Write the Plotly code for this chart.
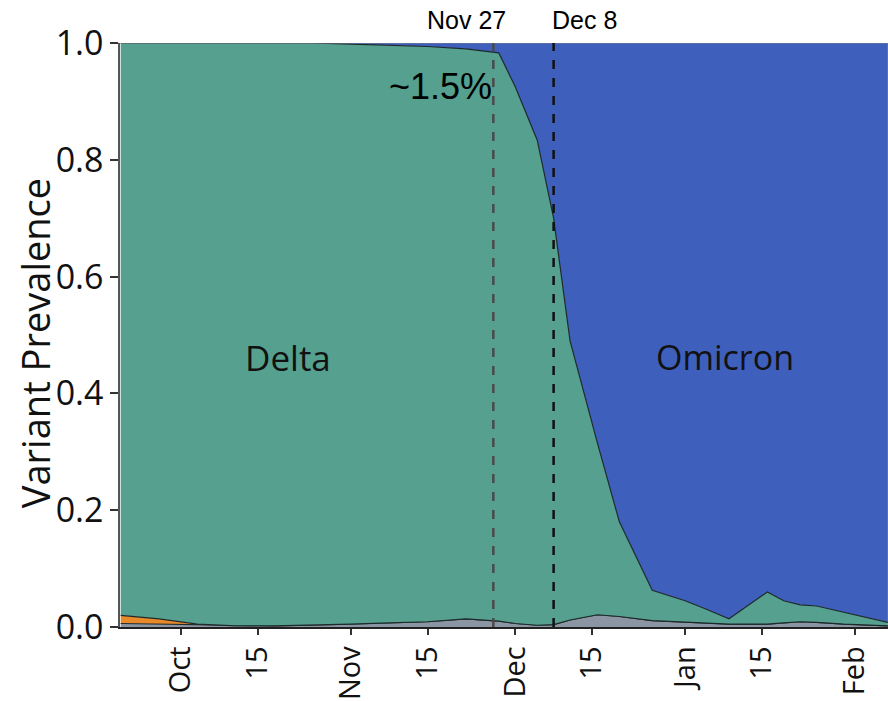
import plotly.graph_objects as go

# ---- data ----
dates = ["2021-09-20", "2021-09-27", "2021-10-04", "2021-10-11", "2021-10-18", "2021-10-25",
         "2021-11-01", "2021-11-08", "2021-11-15", "2021-11-22", "2021-11-28", "2021-12-01",
         "2021-12-05", "2021-12-08", "2021-12-11", "2021-12-16", "2021-12-20", "2021-12-26",
         "2021-12-28", "2022-01-01", "2022-01-05", "2022-01-09", "2022-01-12", "2022-01-16",
         "2022-01-19", "2022-01-22", "2022-01-25", "2022-01-30", "2022-02-07"]

other = [0.006, 0.005, 0.003, 0.002, 0.002, 0.003, 0.005, 0.007, 0.009, 0.014, 0.010, 0.006,
         0.003, 0.004, 0.012, 0.021, 0.018, 0.011, 0.010, 0.008, 0.006, 0.005, 0.005, 0.005,
         0.007, 0.009, 0.008, 0.005, 0.002]
alpha = [0.014, 0.009, 0.002, 0.0, 0.0, 0.0, 0.0, 0.0, 0.0, 0.0, 0.0, 0.0,
         0.0, 0.0, 0.0, 0.0, 0.0, 0.0, 0.0, 0.0, 0.0, 0.0, 0.0, 0.0,
         0.0, 0.0, 0.0, 0.0, 0.0]
delta = [0.980, 0.986, 0.995, 0.998, 0.998, 0.997, 0.993, 0.989, 0.985, 0.976, 0.973, 0.919,
         0.831, 0.696, 0.478, 0.294, 0.162, 0.052, 0.047, 0.037, 0.024, 0.009, 0.029, 0.055,
         0.038, 0.029, 0.028, 0.020, 0.006]
omicron = [0.0, 0.0, 0.0, 0.0, 0.0, 0.0, 0.002, 0.004, 0.006, 0.010, 0.017, 0.075,
           0.166, 0.300, 0.510, 0.685, 0.820, 0.937, 0.943, 0.955, 0.970, 0.986, 0.966, 0.940,
           0.955, 0.962, 0.964, 0.975, 0.992]

tick_dates = ["2021-10-01", "2021-10-15", "2021-11-01", "2021-11-15", "2021-12-01",
              "2021-12-15", "2022-01-01", "2022-01-15", "2022-02-01"]
tick_text = ["Oct", "15", "Nov", "15", "Dec", "15", "Jan", "15", "Feb"]
y_ticks = [0.0, 0.2, 0.4, 0.6, 0.8, 1.0]

event_dates = ["2021-11-27", "2021-12-08"]
event_labels = ["Nov 27", "Dec 8"]
event_colors = ["#4a4a4a", "#111111"]

x_range = ["2021-09-19 21:00", "2022-02-07 00:30"]

# ---- figure ----
fig = go.Figure()
series = [
    ("Other", other, "#8c95a3"),
    ("Alpha", alpha, "#e8892a"),
    ("Delta", delta, "#55a08f"),
    ("Omicron", omicron, "#3e60bc"),
]
for name, vals, col in series:
    fig.add_trace(go.Scatter(
        x=dates, y=vals, name=name, stackgroup="v", mode="lines",
        line=dict(color="#1e2a2a" if name != "Omicron" else "#7a7f88", width=1.2),
        fillcolor=col, showlegend=False, hoverinfo="skip"))

for d, lab, col, xs in zip(event_dates, event_labels, event_colors, [-27, 31]):
    fig.add_shape(type="line", x0=d, x1=d, y0=0, y1=1, xref="x", yref="y",
                  line=dict(color=col, width=2.5, dash="dash"))
    fig.add_annotation(x=d, y=1, xref="x", yref="paper", text=lab, showarrow=False,
                       xanchor="center", yanchor="bottom", yshift=7, xshift=xs,
                       font=dict(family="Arial, Liberation Sans", size=25, color="black"))

fig.add_annotation(x="2021-10-20 12:00", y=0.462, text="Delta", showarrow=False,
                   font=dict(family="Open Sans", size=35, color="#111"))
fig.add_annotation(x="2022-01-08 08:00", y=0.462, text="Omicron", showarrow=False,
                   font=dict(family="Open Sans", size=34, color="#111"))
fig.add_annotation(x=event_dates[0], y=0.925, text="~1.5%", showarrow=False,
                   xanchor="right", xshift=1,
                   font=dict(family="Arial, Liberation Sans", size=36, color="black"))
# y-axis title
fig.add_annotation(x=0, y=0.486, xref="paper", yref="paper", text="Variant Prevalence",
                   showarrow=False, textangle=-90, xanchor="center", yanchor="middle",
                   xshift=-85, font=dict(family="Open Sans", size=38, color="#111"))

fig.update_layout(
    width=888, height=701,
    margin=dict(l=120, r=0, t=43, b=74, autoexpand=False),
    paper_bgcolor="white", plot_bgcolor="white",
    font=dict(family="Open Sans", color="#111"),
)
fig.update_xaxes(
    range=x_range, tickvals=tick_dates, ticktext=tick_text, tickangle=-90,
    ticks="outside", ticklen=6, tickwidth=1.5, tickcolor="#333", automargin=False,
    tickfont=dict(size=29, family="Open Sans", color="#111"),
    showline=True, linecolor="#222", linewidth=1.5, showgrid=False, zeroline=False,
)
fig.update_yaxes(
    range=[0, 1], tickvals=y_ticks, tickformat=".1f", automargin=False,
    ticks="outside", ticklen=8, tickwidth=1.5, tickcolor="#333",
    tickfont=dict(size=34, family="Open Sans", color="#111"),
    showline=True, linecolor="#555", linewidth=1.5, showgrid=False, zeroline=False,
)

fig.write_html(
    "out.html",
    config={"displayModeBar": False},
    post_script="document.body.style.margin='0px';document.body.style.overflow='hidden';",
)
